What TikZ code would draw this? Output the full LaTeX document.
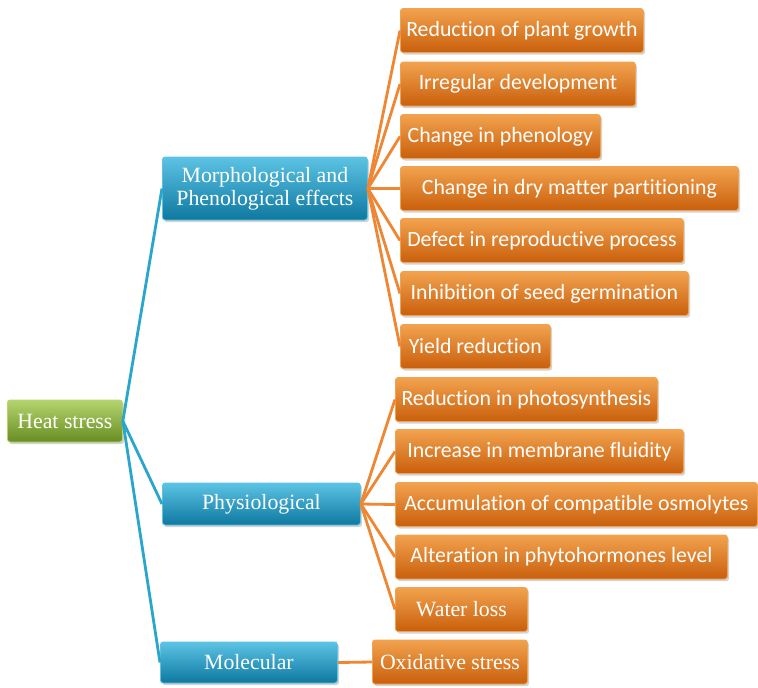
\documentclass[tikz,border=0pt]{standalone}
\usepackage{fontspec}
\setmainfont{Liberation Serif}
\newfontfamily\calfont[Ligatures={NoCommon}]{Carlito}
\usetikzlibrary{shadows}

\definecolor{heatgreen}{HTML}{86B034}
\definecolor{heatgreenlt}{HTML}{B5D46E}
\definecolor{heatgreendk}{HTML}{678D22}
\definecolor{groupblue}{HTML}{1699C6}
\definecolor{groupbluelt}{HTML}{5CC3E4}
\definecolor{groupbluedk}{HTML}{0E78A0}
\definecolor{effectorange}{HTML}{E2741A}
\definecolor{effectorangelt}{HTML}{F2A24E}
\definecolor{effectorangedk}{HTML}{C95F0C}
\definecolor{blueline}{HTML}{2AA6CB}
\definecolor{orangeline}{HTML}{EF8633}

\def\px{0.025cm}

\begin{document}
\begin{tikzpicture}[x=0.025cm, y=-0.025cm,
    basebox/.style={anchor=west, rounded corners=2pt, inner sep=0pt, text=white, line width=0.6pt,
        minimum height=44*\px, align=center,
        drop shadow={opacity=0.35, shadow xshift=1.2pt, shadow yshift=-1.5pt}},
    heatbox/.style={basebox, draw=heatgreenlt, top color=heatgreenlt, middle color=heatgreen, bottom color=heatgreendk, font=\fontsize{15.5}{16.5}\selectfont},
    groupbox/.style={basebox, draw=groupbluelt, top color=groupbluelt, middle color=groupblue, bottom color=groupbluedk, font=\fontsize{15.5}{16.5}\selectfont},
    effectbox/.style={basebox, draw=effectorangelt, top color=effectorangelt, middle color=effectorange, bottom color=effectorangedk, font=\calfont\fontsize{15.5}{17}\selectfont},
    effectserif/.style={effectbox, font=\fontsize{15.5}{16.5}\selectfont},
    bline/.style={blueline, line width=2pt},
    oline/.style={orangeline, line width=2pt}]

    \useasboundingbox (0,0) rectangle (758,687);

    % root and groups
    \node[heatbox, minimum width=115*\px, minimum height=42*\px] (heat) at (7,421) {Heat stress};
    \node[groupbox, minimum width=205*\px, minimum height=63*\px] (morph) at (162,188.5) {Morphological and\\Phenological effects};
    \node[groupbox, minimum width=198*\px, minimum height=42*\px] (phys) at (162,504) {Physiological};
    \node[groupbox, minimum width=177*\px, minimum height=41*\px] (mol) at (160,662.5) {Molecular};

    % morphological effects
    \node[effectbox, minimum width=243*\px] (growth) at (400,30.5) {Reduction of plant growth};
    \node[effectbox, minimum width=235*\px] (irreg) at (400,84) {Irregular development};
    \node[effectbox, minimum width=200*\px] (pheno) at (400,136.5) {Change in phenology};
    \node[effectbox, minimum width=338*\px] (drym) at (400,188.5) {Change in dry matter partitioning};
    \node[effectbox, minimum width=283*\px] (repro) at (400,240.5) {Defect in reproductive process};
    \node[effectbox, minimum width=288*\px] (germ) at (400,293.5) {Inhibition of seed germination};
    \node[effectbox, minimum width=150*\px] (yield) at (400,346.5) {Yield reduction};

    % physiological effects
    \node[effectbox, minimum width=262*\px] (photo) at (395,399.5) {Reduction in photosynthesis};
    \node[effectbox, minimum width=288*\px] (membr) at (395,451.5) {Increase in membrane fluidity};
    \node[effectbox, minimum width=362*\px] (osmo) at (395,504.5) {Accumulation of compatible osmolytes};
    \node[effectbox, minimum width=332*\px] (hormo) at (395,557) {Alteration in phytohormones level};
    \node[effectserif, minimum width=132*\px] (water) at (395,609.5) {Water loss};

    % molecular effects
    \node[effectserif, minimum width=155*\px] (oxid) at (372,662) {Oxidative stress};

    % connectors
    \foreach \g in {morph, phys, mol}
        \draw[bline] (heat.east) -- (\g.west);
    \foreach \e in {growth, irreg, pheno, drym, repro, germ, yield}
        \draw[oline] (morph.east) -- (\e.west);
    \foreach \e in {photo, membr, osmo, hormo, water}
        \draw[oline] (phys.east) -- (\e.west);
    \draw[oline] (mol.east) -- (oxid.west);
\end{tikzpicture}
\end{document}
